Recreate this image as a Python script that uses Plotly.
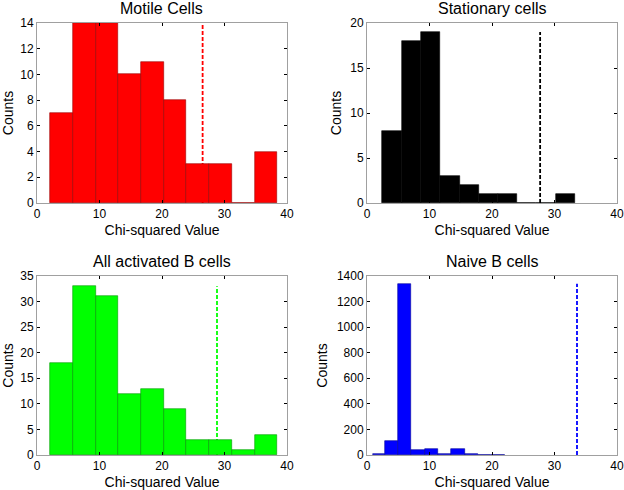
import plotly.graph_objects as go

# ---- data ----
motile_edges = [2.1, 5.7, 9.4, 13.0, 16.6, 20.3, 23.9, 27.5, 31.2, 34.8, 38.4]
motile_counts = [7, 14, 14, 10, 11, 8, 3, 3, 0, 4]
motile_thresh = 26.5

stationary_edges = [2.45, 5.53, 8.6, 11.7, 14.8, 17.9, 21.0, 24.0, 27.1, 30.2, 33.3]
stationary_counts = [8, 18, 19, 3, 2, 1, 1, 0, 0, 1]
stationary_thresh = 27.7

activated_edges = [2.1, 5.7, 9.4, 13.0, 16.6, 20.3, 23.9, 27.5, 31.2, 34.8, 38.4]
activated_counts = [18, 33, 31, 12, 13, 9, 3, 3, 1, 4]
activated_thresh = 28.8

naive_edges = [0.9, 2.9, 5.0, 7.1, 9.2, 11.4, 13.5, 15.6, 17.8, 19.9, 22.0]
naive_counts = [5, 110, 1340, 38, 45, 10, 45, 10, 3, 3]
naive_thresh = 33.6

titles = ["Motile Cells", "Stationary cells", "All activated B cells", "Naive B cells"]
x_label = "Chi-squared Value"
y_label = "Counts"

panels = [
    (motile_edges, motile_counts, motile_thresh, "#ff0000", "#990000", [0, 14], 2),
    (stationary_edges, stationary_counts, stationary_thresh, "#000000", "#000000", [0, 20], 5),
    (activated_edges, activated_counts, activated_thresh, "#00ff00", "#009900", [0, 35], 5),
    (naive_edges, naive_counts, naive_thresh, "#0000ff", "#000099", [0, 1400], 200),
]

W, H = 624, 490
xdoms = [[37 / W, 287 / W], [367 / W, 617 / W]]
ydoms = [[1 - 203 / H, 1 - 23 / H], [1 - 455 / H, 1 - 276 / H]]

fig = go.Figure()
layout = dict(
    width=W, height=H, margin=dict(l=0, r=0, t=0, b=0, autoexpand=False),
    paper_bgcolor="white", plot_bgcolor="white", showlegend=False,
    font=dict(family="Liberation Sans, Arial, sans-serif", color="black"),
    bargap=0,
)
annotations = []
shapes = []
for i, (edges, counts, thr, col, edge_col, yr, ydt) in enumerate(panels):
    r, c = divmod(i, 2)
    n = i + 1
    xa = "x" if n == 1 else f"x{n}"
    ya = "y" if n == 1 else f"y{n}"
    centers = [(edges[k] + edges[k + 1]) / 2 for k in range(len(counts))]
    widths = [edges[k + 1] - edges[k] for k in range(len(counts))]
    fig.add_trace(go.Bar(
        x=centers, y=counts, width=widths, xaxis=xa, yaxis=ya,
        marker=dict(color=col, line=dict(color=edge_col, width=0.6)),
    ))
    axis_common = dict(
        showline=True, linecolor="#a0a0a0", linewidth=1, mirror="ticks",
        ticks="inside", ticklen=3, tickcolor="black", tickwidth=1,
        showgrid=False, zeroline=False, tickfont=dict(size=12), automargin=False,
    )
    layout["xaxis" if n == 1 else f"xaxis{n}"] = dict(
        domain=xdoms[c], range=[0, 40], dtick=10, anchor=ya,
        title=dict(text=x_label, font=dict(size=14), standoff=4), **axis_common,
    )
    layout["yaxis" if n == 1 else f"yaxis{n}"] = dict(
        domain=ydoms[r], range=yr, dtick=ydt, anchor=xa,
        title=dict(text=y_label, font=dict(size=14), standoff=5), **axis_common,
    )
    annotations.append(dict(
        text=titles[i], xref="paper", yref="paper",
        x=(xdoms[c][0] + xdoms[c][1]) / 2, y=ydoms[r][1],
        xanchor="center", yanchor="bottom", yshift=4, showarrow=False,
        font=dict(size=16),
    ))
    shapes.append(dict(
        type="line", xref=xa, yref=ya, x0=thr, x1=thr, y0=0, y1=max(counts),
        line=dict(color=col, width=1.8, dash="4px,2px"), layer="below",
    ))
layout["annotations"] = annotations
layout["shapes"] = shapes
fig.update_layout(**layout)
fig.write_html(
    "out.html",
    config={"displayModeBar": False},
    post_script="document.body.style.margin='0';document.body.style.overflow='hidden';",
)
